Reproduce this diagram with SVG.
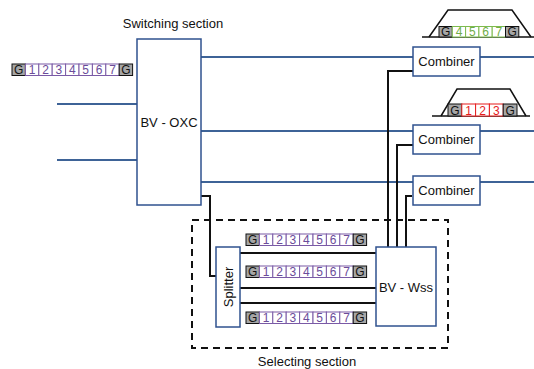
<svg xmlns="http://www.w3.org/2000/svg" xmlns:xlink="http://www.w3.org/1999/xlink" width="534" height="369" viewBox="0 0 534 369">
  <style>
    .lbl { font-family: "Liberation Sans", Arial, sans-serif; font-size: 13px; fill: #111; }
    .cell { font-family: "Liberation Sans", Arial, sans-serif; font-size: 12px; text-anchor: middle; }
    .box { fill: #fff; stroke: #2f528f; stroke-width: 1.5; }
    .fiber { stroke: #3e6397; stroke-width: 2; fill: none; }
    .wire { stroke: #111; stroke-width: 2; fill: none; }
    .gc { fill: #a6a6a6; stroke: #111; stroke-width: 1; }
    .pc { fill: #fff; stroke: #7a5aa6; stroke-width: 1; }
    .gcell { fill: #fff; stroke: #7dbb4e; stroke-width: 1; }
    .rcell { fill: #fff; stroke: #e51c1c; stroke-width: 1; }
    .trap { fill: none; stroke: #111; stroke-width: 1.5; }
  </style>
  <defs>
    <!-- 9-slot frame: guard, channels 1..7, guard -->
    <g id="frame7">
      <rect class="gc" x="0" y="0" width="13.4" height="11.5"/>
      <rect class="pc" x="13.4" y="0" width="13.4" height="11.5"/>
      <rect class="pc" x="26.8" y="0" width="13.4" height="11.5"/>
      <rect class="pc" x="40.2" y="0" width="13.4" height="11.5"/>
      <rect class="pc" x="53.6" y="0" width="13.4" height="11.5"/>
      <rect class="pc" x="67" y="0" width="13.4" height="11.5"/>
      <rect class="pc" x="80.4" y="0" width="13.4" height="11.5"/>
      <rect class="pc" x="93.8" y="0" width="13.4" height="11.5"/>
      <rect class="gc" x="107.2" y="0" width="13.4" height="11.5"/>
      <text class="cell" y="10.2" fill="#111"><tspan x="6.7">G</tspan><tspan x="113.9">G</tspan></text>
      <text class="cell" y="10.2" fill="#6b4c9a"><tspan x="20.1">1</tspan><tspan x="33.5">2</tspan><tspan x="46.9">3</tspan><tspan x="60.3">4</tspan><tspan x="73.7">5</tspan><tspan x="87.1">6</tspan><tspan x="100.5">7</tspan></text>
    </g>
  </defs>

  <!-- fibres (blue) and control wires (black) -->
  <g id="connectors">
    <g class="fiber">
      <line x1="57" y1="104" x2="137" y2="104"/>
      <line x1="57" y1="160" x2="137" y2="160"/>
      <line x1="201" y1="57" x2="534" y2="57"/>
      <line x1="201" y1="131" x2="534" y2="131"/>
      <line x1="201" y1="182" x2="534" y2="182"/>
    </g>
    <g class="wire">
      <path d="M413,71 H388 V247"/>
      <path d="M413,145 H397 V247"/>
      <path d="M412,196 H406 V247"/>
      <path d="M201,196 H210 V276 H216"/>
      <line x1="240" y1="253" x2="376" y2="253"/>
      <line x1="240" y1="288" x2="376" y2="288"/>
      <line x1="240" y1="303" x2="376" y2="303"/>
    </g>
  </g>

  <!-- switching section -->
  <text class="lbl" x="173" y="28" text-anchor="middle">Switching section</text>
  <use xlink:href="#frame7" x="12" y="64"/>
  <g id="oxc">
    <rect class="box" x="137" y="39" width="64" height="166"/>
    <text class="lbl" x="169" y="127" text-anchor="middle">BV - OXC</text>
  </g>

  <!-- combiners -->
  <g id="combiner1">
    <rect class="box" x="413" y="47" width="67" height="29"/>
    <text class="lbl" x="446.5" y="66" text-anchor="middle">Combiner</text>
  </g>
  <g id="combiner2">
    <rect class="box" x="413" y="125" width="67" height="29"/>
    <text class="lbl" x="446.5" y="144" text-anchor="middle">Combiner</text>
  </g>
  <g id="combiner3">
    <rect class="box" x="413" y="176" width="67" height="29"/>
    <text class="lbl" x="446.5" y="195" text-anchor="middle">Combiner</text>
  </g>

  <!-- filtered spectra -->
  <g id="spectrum-green">
    <line class="trap" x1="422" y1="37" x2="534" y2="37"/>
    <path class="trap" d="M429,37 L448,10 H512 L531,37"/>
    <rect class="gc" x="439" y="26.5" width="13.3" height="10.5"/>
    <rect class="gcell" x="452.3" y="26.5" width="13.3" height="10.5"/>
    <rect class="gcell" x="465.6" y="26.5" width="13.3" height="10.5"/>
    <rect class="gcell" x="478.9" y="26.5" width="13.3" height="10.5"/>
    <rect class="gcell" x="492.2" y="26.5" width="13.3" height="10.5"/>
    <rect class="gc" x="505.5" y="26.5" width="13.3" height="10.5"/>
    <text class="cell" y="36" fill="#111"><tspan x="445.7">G</tspan><tspan x="512.2">G</tspan></text>
    <text class="cell" y="36" fill="#70ad47"><tspan x="459">4</tspan><tspan x="472.3">5</tspan><tspan x="485.6">6</tspan><tspan x="498.9">7</tspan></text>
  </g>
  <g id="spectrum-red">
    <line class="trap" x1="432" y1="116" x2="530" y2="116"/>
    <path class="trap" d="M441,116 L457,89 H510 L526,116"/>
    <rect class="gc" x="448" y="104" width="13.8" height="12"/>
    <rect class="rcell" x="461.8" y="104" width="13.8" height="12"/>
    <rect class="rcell" x="475.6" y="104" width="13.8" height="12"/>
    <rect class="rcell" x="489.4" y="104" width="13.8" height="12"/>
    <rect class="gc" x="503.2" y="104" width="13.8" height="12"/>
    <text class="cell" y="114.5" fill="#111"><tspan x="454.9">G</tspan><tspan x="510.1">G</tspan></text>
    <text class="cell" y="114.5" fill="#e51c1c"><tspan x="468.7">1</tspan><tspan x="482.5">2</tspan><tspan x="496.3">3</tspan></text>
  </g>

  <!-- selecting section -->
  <rect x="192" y="220" width="256" height="128" fill="none" stroke="#111" stroke-width="2" stroke-dasharray="7 5"/>
  <text class="lbl" x="307" y="366" text-anchor="middle">Selecting section</text>
  <g id="splitter">
    <rect class="box" x="216" y="247" width="24" height="80"/>
    <text class="lbl" transform="translate(232.5,287) rotate(-90)" text-anchor="middle">Splitter</text>
  </g>
  <g id="wss">
    <rect class="box" x="376" y="247" width="60" height="79"/>
    <text class="lbl" x="406" y="292" text-anchor="middle">BV - Wss</text>
  </g>
  <use xlink:href="#frame7" x="246" y="234"/>
  <use xlink:href="#frame7" x="246" y="266"/>
  <use xlink:href="#frame7" x="246" y="312"/>
</svg>
